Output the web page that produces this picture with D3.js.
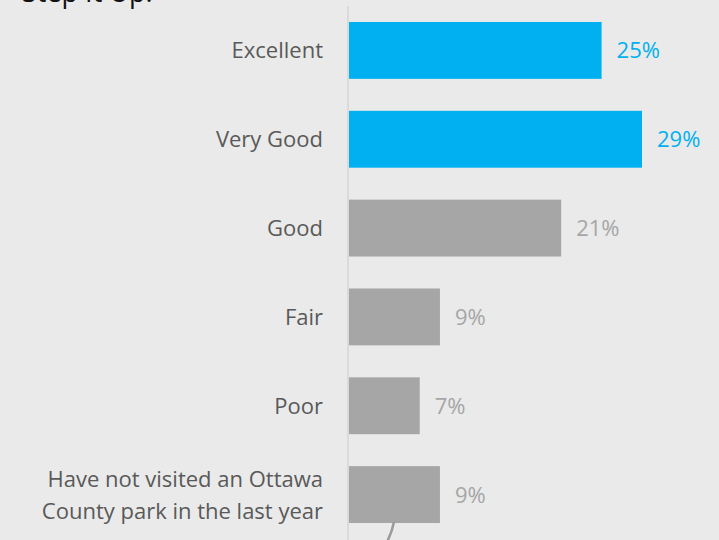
<!DOCTYPE html>
<html>
<head>
<meta charset="utf-8">
<script src="https://cdn.jsdelivr.net/npm/d3@7"></script>
<style>
  html, body { margin: 0; padding: 0; background: #E9EAE9; }
  svg { display: block; }
  text { font-family: "Open Sans", "Noto Sans", sans-serif; }
</style>
</head>
<body>
<svg id="chart" width="719" height="540"></svg>
<script>
// Park rating survey responses
const categories = [
  "Excellent",
  "Very Good",
  "Good",
  "Fair",
  "Poor",
  "Have not visited an Ottawa County park in the last year"
];
const values = [25, 29, 21, 9, 7, 9];
const highlighted = [true, true, false, false, false, false];
const categoryLines = [
  ["Excellent"],
  ["Very Good"],
  ["Good"],
  ["Fair"],
  ["Poor"],
  ["Have not visited an Ottawa", "County park in the last year"]
];

const W = 719, H = 540;
const svg = d3.select("#chart");

const blue = "#00B0F0", grey = "#A6A6A6", labelColor = "#595959";

// Title (sits partly above the visible area)
svg.append("text")
  .attr("x", 22).attr("y", 2)
  .attr("font-size", 27)
  .attr("fill", "#111")
  .text("Step It Up.");

const x = d3.scaleLinear().domain([0, 29]).range([349, 642]);
const y = d3.scaleBand().domain(categories).range([6, 539]).paddingInner(0.36).paddingOuter(0.18);

// Category axis line
svg.append("line")
  .attr("x1", 348).attr("x2", 348)
  .attr("y1", 6).attr("y2", H)
  .attr("stroke", "#D4D4D4").attr("stroke-width", 1.5);

// Bars
svg.selectAll("rect.bar").data(categories).join("rect")
  .attr("class", "bar")
  .attr("x", x(0))
  .attr("y", d => y(d))
  .attr("width", (d, i) => x(values[i]) - x(0))
  .attr("height", y.bandwidth())
  .attr("fill", (d, i) => highlighted[i] ? blue : grey);

// Value labels
svg.selectAll("text.val").data(categories).join("text")
  .attr("class", "val")
  .attr("x", (d, i) => x(values[i]) + 15)
  .attr("y", d => y(d) + y.bandwidth() / 2)
  .attr("dy", "0.36em")
  .attr("font-size", 22)
  .attr("fill", (d, i) => highlighted[i] ? blue : grey)
  .text((d, i) => values[i] + "%");

// Category labels (right-aligned, wrapped where needed)
const lineH = 32;
categories.forEach((c, i) => {
  const lines = categoryLines[i];
  const cy = y(c) + y.bandwidth() / 2;
  const t = svg.append("text")
    .attr("x", 323)
    .attr("text-anchor", "end")
    .attr("font-size", 22)
    .attr("fill", labelColor);
  lines.forEach((ln, j) => {
    t.append("tspan")
      .attr("x", 323)
      .attr("y", cy + (j - (lines.length - 1) / 2) * lineH)
      .attr("dy", "0.36em")
      .text(ln);
  });
});

// Connector stroke leaving the bottom of the chart
svg.append("path")
  .attr("d", "M394,522 Q392,532 387,542")
  .attr("fill", "none")
  .attr("stroke", "#9A9A9A")
  .attr("stroke-width", 2.5);
</script>
</body>
</html>
